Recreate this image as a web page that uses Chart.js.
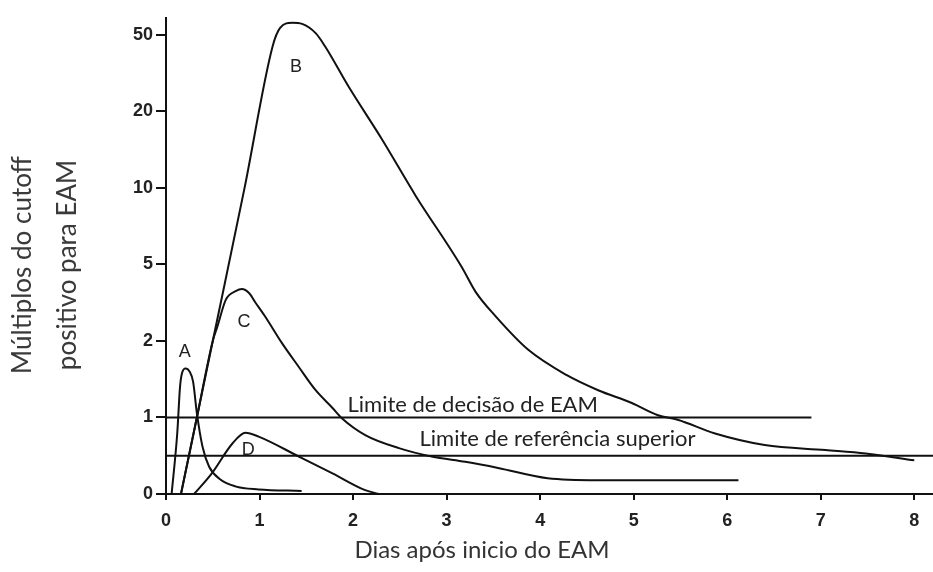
<!DOCTYPE html>
<html>
<head>
<meta charset="utf-8">
<script src="https://cdn.jsdelivr.net/npm/chart.js@4.4.1/dist/chart.umd.min.js"></script>
<style>
  html, body { margin: 0; padding: 0; background: #fff; overflow: hidden; }
  #wrap { width: 933px; height: 572px; }
</style>
</head>
<body>
<div id="wrap"><canvas id="chart" width="933" height="572"></canvas></div>
<script>
/*
  Marcadores cardíacos após EAM: múltiplos do cutoff vs dias
*/

// axis ticks
const xTickValues = [0, 1, 2, 3, 4, 5, 6, 7, 8];
const yTickValues = [0, 1, 2, 5, 10, 20, 50];

// curve A
const curveA_days = [0.06, 0.12, 0.15, 0.17, 0.21, 0.25, 0.29, 0.33, 0.39, 0.46, 0.57, 0.74, 0.99, 1.45];
const curveA_multiples = [0, 0.79, 1.32, 1.49, 1.56, 1.52, 1.38, 1.04, 0.62, 0.36, 0.2, 0.1, 0.06, 0.04];

// curve B
const curveB_days = [0.16, 0.5, 0.84, 1.14, 1.22, 1.35, 1.455, 1.6, 1.7, 1.95, 2.31, 2.67,
  3.16, 3.31, 3.52, 3.87, 4.28, 4.62, 4.98, 5.26, 5.47, 5.87, 6.4, 7.05, 7.48, 8.0];
const curveB_multiples = [0, 2, 10, 43.6, 54.3, 57.8, 57, 51, 43.6, 27, 15.5, 9.3,
  4.86, 3.6, 2.7, 1.85, 1.47, 1.28, 1.14, 1.02, 0.97, 0.79, 0.64, 0.575, 0.53, 0.44];

// curve C
const curveC_days = [0.16, 0.33, 0.5, 0.55, 0.64, 0.75, 0.81, 0.89, 0.95, 1.06, 1.24, 1.42, 1.6, 1.78, 1.88,
  2.13, 2.49, 2.84, 3.2, 3.55, 4.08, 4.62, 6.12];
const curveC_multiples = [0, 1, 2, 2.38, 3.28, 3.64, 3.72, 3.54, 3.2, 2.68, 1.96, 1.58, 1.28, 1.09, 0.99,
  0.77, 0.6, 0.49, 0.42, 0.34, 0.205, 0.18, 0.18];

// curve D
const curveD_days = [0.3, 0.49, 0.71, 0.85, 0.99, 1.42, 1.78, 2.13, 2.28];
const curveD_multiples = [0, 0.27, 0.66, 0.8, 0.75, 0.49, 0.27, 0.05, 0];

// limit lines
const decisionLimit = 1;
const decisionDays = [0, 6.9];
const referenceLimit = 0.5;
const referenceDays = [0, 8.2];

// value -> position in "tick steps" (linear 0..1, then log between ticks)
function toPos(v) {
  if (v <= 1) return v;
  const t = yTickValues;
  for (let i = 1; i < t.length - 1; i++) {
    if (v <= t[i + 1]) return i + Math.log(v / t[i]) / Math.log(t[i + 1] / t[i]);
  }
  const n = t.length - 1;
  return n + Math.log(v / t[n]) / Math.log(t[n] / t[n - 1]);
}
function fromPos(p) {
  if (p <= 1) return p;
  const t = yTickValues;
  const i = Math.min(Math.floor(p), t.length - 2);
  return t[i] * Math.pow(t[i + 1] / t[i], p - i);
}

// scale with the tick steps evenly spaced
const LinearScale = Chart.registry.getScale('linear');
class MultiplesScale extends LinearScale {
  buildTicks() {
    return yTickValues.map(v => ({ value: v }));
  }
  getPixelForValue(value) {
    return super.getPixelForValue(toPos(value));
  }
  getValueForPixel(pixel) {
    return fromPos(super.getValueForPixel(pixel));
  }
}
MultiplesScale.id = 'multiples';
Chart.register(MultiplesScale);

function points(xs, ys) {
  return xs.map((x, i) => ({ x: x, y: ys[i] }));
}

const lineStyle = {
  borderColor: '#111',
  borderWidth: 2,
  pointRadius: 0,
  fill: false,
  cubicInterpolationMode: 'monotone'
};

// text on the chart (data units)
const curveLabels = [
  { text: 'A', x: 0.2, y: 1.81 },
  { text: 'B', x: 1.39, y: 34.1 },
  { text: 'C', x: 0.835, y: 2.51 },
  { text: 'D', x: 0.88, y: 0.575 }
];
const limitLabels = [
  { text: 'Limite de decisão de EAM', x: 1.94, y: 1.12 },
  { text: 'Limite de referência superior', x: 2.71, y: 0.72 }
];
const xTitle = 'Dias após inicio do EAM';
const yTitle = ['Múltiplos do cutoff', 'positivo para EAM'];

const textPlugin = {
  id: 'chartText',
  afterDatasetsDraw(chart) {
    const { ctx, scales: { x, y } } = chart;
    ctx.save();
    ctx.fillStyle = '#222';
    ctx.textBaseline = 'middle';
    ctx.textAlign = 'center';
    ctx.font = '18px "Liberation Sans", Arial, sans-serif';
    curveLabels.forEach(l => ctx.fillText(l.text, x.getPixelForValue(l.x), y.getPixelForValue(l.y)));
    ctx.textAlign = 'left';
    ctx.font = '22px Lato, sans-serif';
    limitLabels.forEach(l => ctx.fillText(l.text, x.getPixelForValue(l.x), y.getPixelForValue(l.y)));

    // axis titles
    ctx.fillStyle = '#333';
    ctx.textAlign = 'center';
    ctx.font = '24px Lato, sans-serif';
    ctx.fillText(xTitle, 482, 550);
    ctx.fillStyle = '#3a3a3a';
    ctx.font = '26px Lato, sans-serif';
    ctx.translate(0, 265);
    ctx.rotate(-Math.PI / 2);
    ctx.fillText(yTitle[0], 0, 23);
    ctx.fillText(yTitle[1], 0, 68);
    ctx.restore();
  }
};

const tickFont = { family: '"Liberation Sans", Arial, sans-serif', size: 18, weight: 'bold' };

new Chart(document.getElementById('chart'), {
  type: 'line',
  data: {
    datasets: [
      { ...lineStyle, data: points(curveA_days, curveA_multiples) },
      { ...lineStyle, data: points(curveB_days, curveB_multiples) },
      { ...lineStyle, data: points(curveC_days, curveC_multiples) },
      { ...lineStyle, data: points(curveD_days, curveD_multiples) },
      { ...lineStyle, cubicInterpolationMode: 'default', tension: 0,
        data: decisionDays.map(d => ({ x: d, y: decisionLimit })) },
      { ...lineStyle, cubicInterpolationMode: 'default', tension: 0,
        data: referenceDays.map(d => ({ x: d, y: referenceLimit })) }
    ]
  },
  options: {
    responsive: false,
    devicePixelRatio: 1,
    animation: false,
    layout: { padding: { top: 18, right: 0, bottom: 0, left: 0 } },
    plugins: {
      legend: { display: false },
      tooltip: { enabled: false }
    },
    scales: {
      x: {
        type: 'linear',
        min: 0,
        max: 8.2,
        afterBuildTicks: s => { s.ticks = xTickValues.map(v => ({ value: v })); },
        afterFit: s => { s.height = 78; },
        border: { display: true, color: '#111', width: 2 },
        grid: { drawOnChartArea: false, drawTicks: true, tickLength: 6, color: '#111', lineWidth: 2 },
        ticks: { font: tickFont, color: '#222', padding: 10, maxRotation: 0 }
      },
      y: {
        type: 'multiples',
        min: 0,
        max: 6.22, // in tick steps
        afterFit: s => { s.width = 166; },
        border: { display: true, color: '#111', width: 2 },
        grid: { drawOnChartArea: false, drawTicks: true, tickLength: 10, color: '#111', lineWidth: 2 },
        ticks: { font: tickFont, color: '#222', padding: 3, callback: v => String(v) }
      }
    }
  },
  plugins: [textPlugin]
});
</script>
</body>
</html>
